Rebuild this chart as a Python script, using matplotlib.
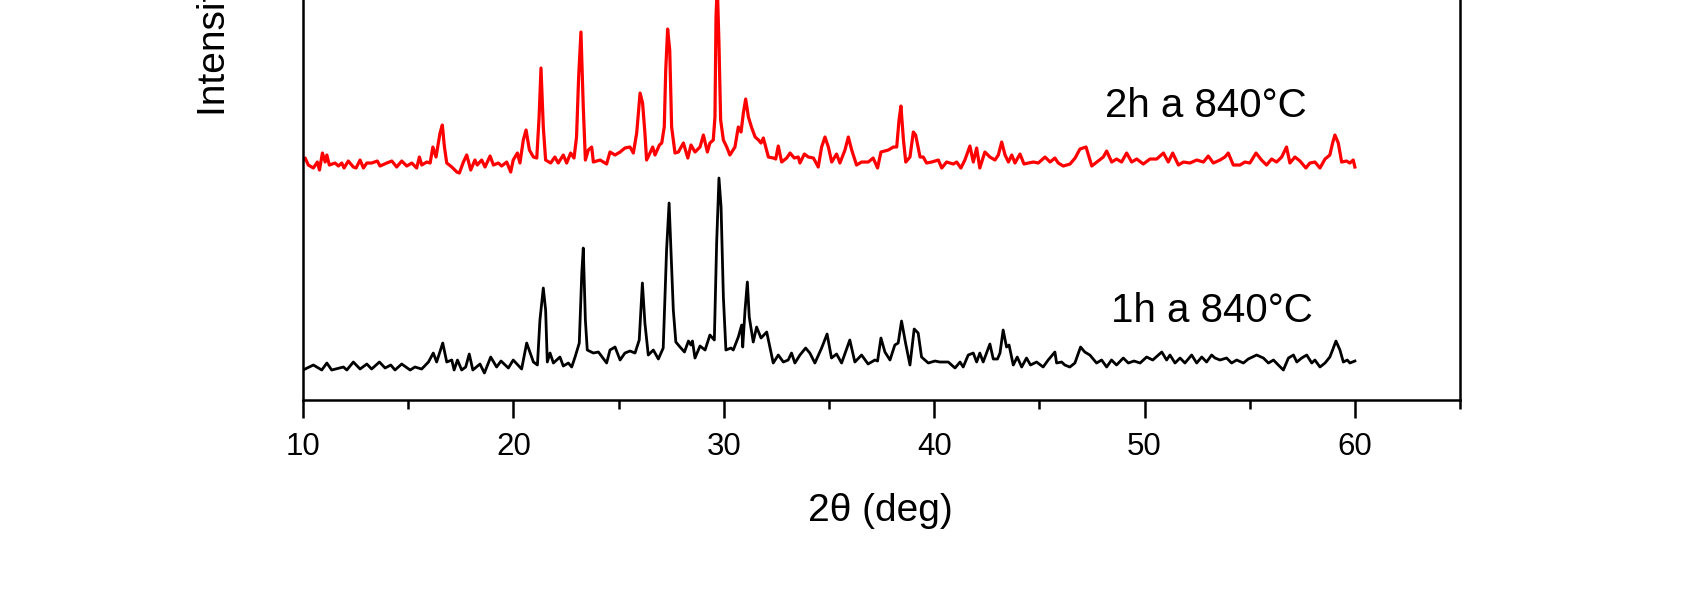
import matplotlib
matplotlib.use("Agg")
import matplotlib.pyplot as plt
from matplotlib.ticker import MultipleLocator

plt.rcParams['font.family'] = ['Liberation Sans', 'DejaVu Sans']

# 2theta (deg) and intensity (a.u.), 1h at 840 C
two_theta_1h = [
    10.0, 10.49, 10.89, 11.13, 11.36, 11.92, 12.08, 12.39, 12.71, 13.03,
    13.26, 13.63, 13.9, 14.17, 14.37, 14.69, 15.09, 15.32, 15.64, 15.96,
    16.19, 16.35, 16.64, 16.83, 17.07, 17.18, 17.34, 17.54, 17.73, 17.9,
    18.07, 18.41, 18.62, 18.92, 19.2, 19.41, 19.76, 19.99, 20.39, 20.63,
    20.95, 21.14, 21.26, 21.42, 21.53, 21.61, 21.74, 21.9, 22.21, 22.37,
    22.61, 22.77, 22.93, 23.13, 23.25, 23.32, 23.42, 23.51, 23.8, 24.04,
    24.43, 24.59, 24.83, 25.07, 25.3, 25.54, 25.78, 25.98, 26.13, 26.25,
    26.41, 26.65, 26.89, 27.12, 27.28, 27.4, 27.49, 27.6, 27.72, 27.92,
    28.13, 28.32, 28.44, 28.51, 28.63, 28.87, 29.11, 29.34, 29.55, 29.66,
    29.77, 29.87, 29.98, 30.1, 30.34, 30.45, 30.69, 30.85, 30.9, 31.01,
    31.12, 31.21, 31.4, 31.56, 31.77, 32.04, 32.35, 32.59, 32.83, 33.06,
    33.22, 33.38, 33.62, 33.89, 34.09, 34.33, 34.65, 34.91, 35.12, 35.36,
    35.6, 35.99, 36.23, 36.55, 36.86, 37.18, 37.31, 37.47, 37.66, 37.9,
    38.13, 38.29, 38.45, 38.64, 38.85, 39.05, 39.24, 39.4, 39.72, 40.04,
    40.27, 40.67, 40.99, 41.23, 41.38, 41.62, 41.86, 42.02, 42.17, 42.33,
    42.65, 42.81, 43.01, 43.13, 43.28, 43.44, 43.56, 43.76, 43.95, 44.16,
    44.39, 44.58, 44.87, 45.18, 45.42, 45.74, 45.82, 46.06, 46.21, 46.45,
    46.69, 46.96, 47.16, 47.4, 47.72, 47.96, 48.2, 48.43, 48.67, 48.99,
    49.23, 49.5, 49.79, 50.1, 50.39, 50.82, 51.05, 51.21, 51.45, 51.69,
    51.92, 52.24, 52.48, 52.72, 52.95, 53.19, 53.35, 53.59, 53.9, 54.14,
    54.38, 54.7, 54.93, 55.33, 55.65, 55.89, 56.13, 56.36, 56.6, 56.84,
    57.08, 57.24, 57.47, 57.71, 57.95, 58.1, 58.34, 58.58, 58.81, 58.94,
    59.1, 59.29, 59.45, 59.64, 59.76, 60.0,
]
intensity_1h = [
    30, 35, 30, 37, 30, 33, 30, 38, 31, 36,
    31, 38, 32, 35, 30, 36, 30, 33, 31, 38,
    47, 38, 57, 38, 40, 30, 40, 30, 33, 46,
    30, 36, 27, 43, 33, 39, 32, 40, 31, 57,
    38, 35, 80, 112, 90, 38, 47, 37, 43, 34,
    37, 33, 43, 57, 127, 152, 80, 50, 47, 48,
    37, 50, 53, 40, 47, 49, 47, 60, 117, 77,
    45, 50, 41, 52, 150, 197, 150, 90, 58, 53,
    48, 59, 55, 59, 42, 54, 50, 65, 60, 157,
    222, 193, 103, 50, 52, 50, 63, 75, 53, 90,
    118, 83, 58, 73, 62, 68, 37, 45, 38, 40,
    47, 37, 45, 52, 47, 37, 52, 66, 42, 46,
    37, 60, 38, 45, 36, 40, 39, 62, 48, 40,
    55, 57, 79, 57, 35, 71, 67, 43, 37, 39,
    38, 38, 32, 38, 33, 45, 47, 38, 47, 38,
    56, 41, 41, 47, 70, 53, 55, 35, 43, 33,
    42, 35, 38, 33, 40, 48, 37, 38, 35, 33,
    37, 53, 48, 45, 37, 40, 33, 40, 35, 42,
    37, 39, 37, 43, 40, 48, 40, 45, 37, 42,
    37, 45, 37, 43, 38, 45, 42, 40, 42, 37,
    40, 37, 41, 45, 42, 37, 40, 35, 30, 42,
    45, 38, 42, 45, 37, 40, 33, 37, 43, 50,
    59, 50, 38, 40, 37, 39,
]

# 2h at 840 C, plotted shifted up by OFFSET_2H
OFFSET_2H = 200
two_theta_2h = [
    10.02, 10.1, 10.25, 10.49, 10.68, 10.78, 10.92, 11.05, 11.13, 11.25,
    11.52, 11.68, 11.84, 11.95, 12.15, 12.39, 12.52, 12.71, 12.87, 13.03,
    13.26, 13.53, 13.66, 13.98, 14.22, 14.45, 14.69, 14.93, 15.17, 15.4,
    15.53, 15.64, 15.88, 16.04, 16.17, 16.32, 16.51, 16.62, 16.72, 16.83,
    17.07, 17.31, 17.43, 17.62, 17.78, 17.97, 18.17, 18.28, 18.49, 18.65,
    18.89, 19.05, 19.28, 19.44, 19.68, 19.87, 19.99, 20.19, 20.31, 20.47,
    20.6, 20.76, 20.95, 21.11, 21.22, 21.31, 21.42, 21.53, 21.77, 21.97,
    22.13, 22.37, 22.53, 22.72, 22.88, 23.0, 23.1, 23.21, 23.32, 23.42,
    23.56, 23.72, 23.8, 24.12, 24.43, 24.59, 24.83, 25.07, 25.3, 25.54,
    25.7, 25.86, 26.02, 26.14, 26.25, 26.33, 26.49, 26.62, 26.73, 26.94,
    27.05, 27.17, 27.24, 27.33, 27.43, 27.52, 27.68, 27.84, 28.08, 28.29,
    28.44, 28.63, 28.87, 29.03, 29.22, 29.34, 29.5, 29.58, 29.63, 29.69,
    29.77, 29.85, 29.98, 30.14, 30.29, 30.53, 30.69, 30.82, 30.93, 31.04,
    31.17, 31.33, 31.49, 31.65, 31.77, 31.88, 32.12, 32.36, 32.47, 32.59,
    32.75, 32.99, 33.15, 33.35, 33.54, 33.62, 33.83, 34.02, 34.26, 34.49,
    34.65, 34.81, 34.97, 35.13, 35.36, 35.52, 35.76, 35.92, 36.08, 36.31,
    36.55, 36.87, 37.1, 37.31, 37.47, 37.82, 38.06, 38.22, 38.33, 38.42,
    38.54, 38.65, 38.85, 39.01, 39.12, 39.33, 39.48, 39.64, 39.88, 40.2,
    40.36, 40.59, 40.91, 41.07, 41.27, 41.46, 41.7, 41.86, 42.02, 42.17,
    42.41, 42.65, 42.89, 43.05, 43.21, 43.37, 43.53, 43.69, 43.84, 44.08,
    44.27, 44.48, 44.72, 44.95, 45.27, 45.51, 45.74, 45.9, 46.14, 46.46,
    46.7, 46.93, 47.22, 47.49, 47.8, 48.04, 48.2, 48.44, 48.67, 48.91,
    49.15, 49.39, 49.63, 49.94, 50.26, 50.58, 50.9, 51.13, 51.34, 51.61,
    51.85, 52.16, 52.48, 52.8, 53.03, 53.27, 53.59, 53.82, 53.98, 54.22,
    54.54, 54.77, 55.01, 55.3, 55.56, 55.8, 56.04, 56.28, 56.52, 56.75,
    56.91, 57.15, 57.39, 57.67, 57.86, 58.1, 58.34, 58.58, 58.81, 58.94,
    59.05, 59.21, 59.37, 59.6, 59.76, 59.92, 60.0,
]
intensity_2h = [
    40, 42, 35, 32, 38, 30, 47, 38, 45, 35,
    37, 34, 37, 32, 39, 33, 32, 40, 32, 37,
    37, 39, 34, 37, 39, 33, 39, 34, 37, 32,
    43, 35, 38, 37, 53, 43, 67, 75, 53, 37,
    33, 28, 27, 38, 45, 30, 40, 35, 40, 33,
    44, 35, 37, 34, 38, 28, 40, 47, 37, 60,
    70, 50, 43, 42, 83, 132, 73, 40, 37, 43,
    37, 45, 37, 47, 42, 63, 123, 168, 93, 40,
    50, 53, 38, 40, 36, 48, 45, 48, 52, 53,
    47, 67, 107, 97, 67, 40, 47, 53, 45, 55,
    57, 73, 130, 171, 150, 73, 47, 48, 57, 42,
    55, 48, 53, 65, 48, 57, 60, 83, 183, 215,
    157, 80, 60, 53, 45, 53, 73, 68, 87, 101,
    83, 72, 63, 60, 57, 62, 43, 42, 41, 54,
    38, 42, 47, 42, 43, 37, 46, 43, 42, 33,
    53, 63, 53, 38, 46, 37, 50, 63, 50, 35,
    38, 38, 42, 32, 48, 50, 53, 53, 80, 94,
    60, 38, 43, 68, 65, 43, 43, 37, 38, 40,
    32, 38, 36, 38, 32, 40, 54, 38, 52, 32,
    48, 43, 40, 45, 58, 45, 38, 45, 37, 46,
    36, 37, 38, 37, 43, 38, 42, 37, 34, 36,
    42, 51, 53, 34, 39, 43, 49, 38, 41, 38,
    47, 38, 41, 36, 41, 41, 47, 38, 47, 35,
    38, 37, 40, 38, 44, 37, 40, 43, 47, 35,
    35, 38, 37, 47, 40, 35, 41, 38, 43, 53,
    37, 43, 39, 32, 37, 38, 32, 41, 45, 57,
    65, 57, 38, 39, 37, 40, 33,
]

fig = plt.figure(figsize=(16.95, 5.99), dpi=100)
# axes top runs past the figure edge, like the cropped original
ax = fig.add_axes([0.1788, 0.3322, 0.6826, 0.8347])

ax.plot(two_theta_1h, intensity_1h, color='black', lw=2.0)
ax.plot(two_theta_2h, [v + OFFSET_2H for v in intensity_2h], color='red', lw=2.3)

ax.set_xlim(10, 65)
ax.set_ylim(0, 500)
ax.xaxis.set_major_locator(MultipleLocator(10))
ax.xaxis.set_minor_locator(MultipleLocator(5))
ax.set_yticks([])
ax.tick_params(axis='x', which='major', direction='out', length=13, width=1.8,
               labelsize=22.5, pad=10)
ax.tick_params(axis='x', which='minor', direction='out', length=6.5, width=1.8)
for sp in ax.spines.values():
    sp.set_linewidth(1.8)

ax.text(48.12, 283, '2h a 840°C', fontsize=29, ha='left', va='baseline')
ax.text(48.43, 78, '1h a 840°C', fontsize=29, ha='left', va='baseline')

fig.text(880 / 1695, 1 - 521 / 599, '2θ (deg)', fontsize=28, ha='center', va='baseline')
fig.text(225 / 1695, 1 - 116 / 599, 'Intensity (a.u.)', fontsize=28, rotation=90,
         rotation_mode='anchor', ha='left', va='baseline')

fig.savefig('out.png', dpi=100)
